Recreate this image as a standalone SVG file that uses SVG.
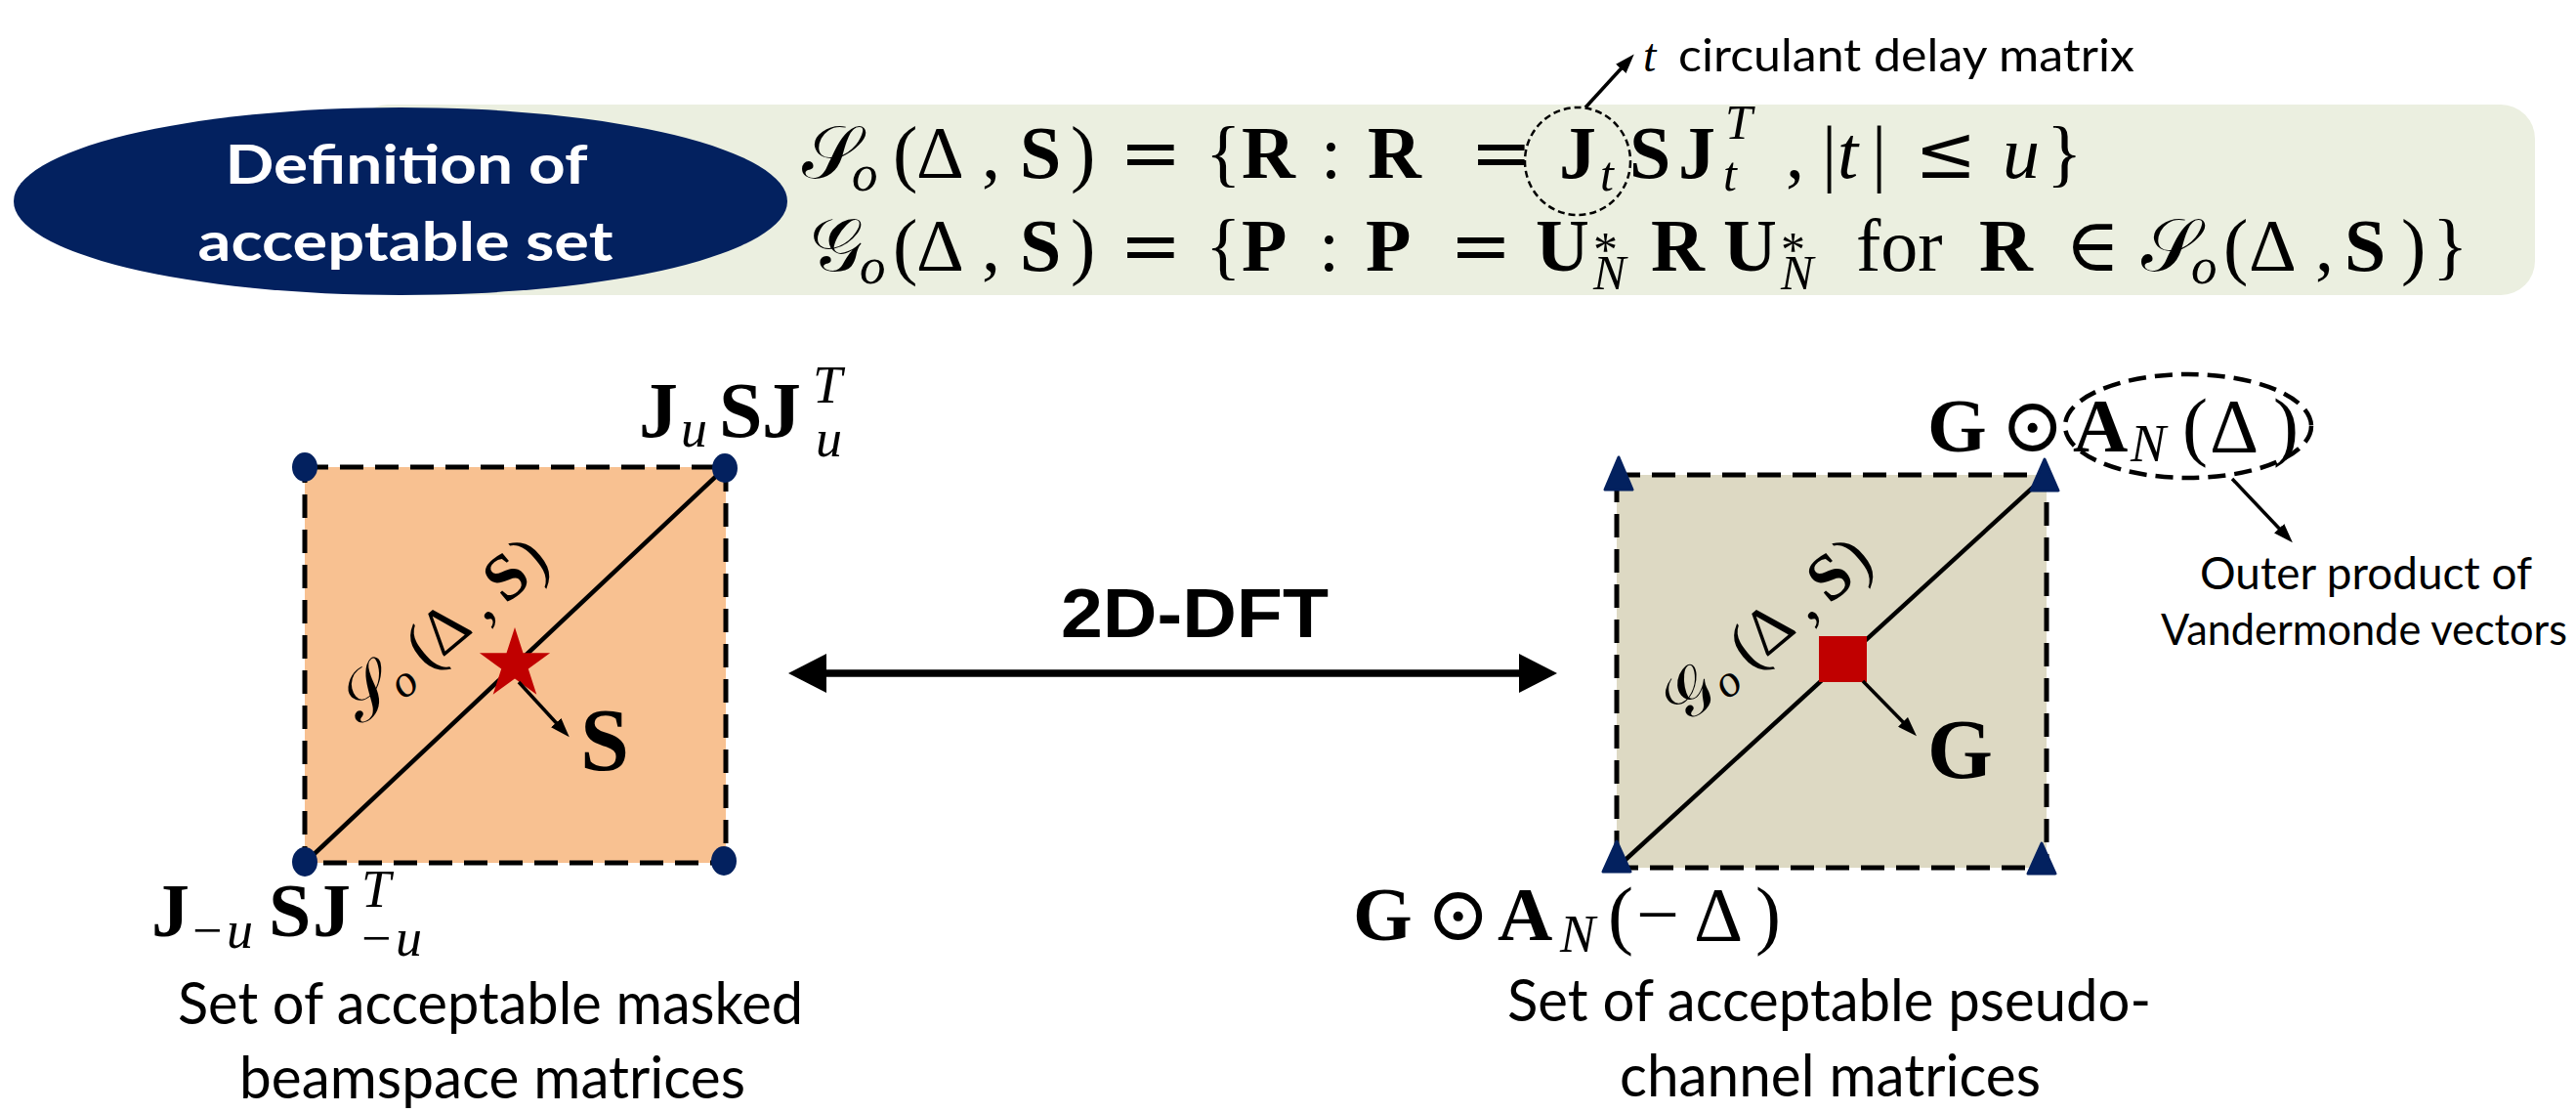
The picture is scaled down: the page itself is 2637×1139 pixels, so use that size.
<svg xmlns="http://www.w3.org/2000/svg" width="2637" height="1139" viewBox="0 0 2637 1139">
<defs>
<style>
.m{font-family:"Liberation Serif","DejaVu Serif",serif;fill:#000}
.b{font-weight:bold}
.i{font-style:italic}
.op{font-family:"DejaVu Serif","Liberation Serif",serif;font-weight:normal;font-style:normal}
.cal{font-family:"DejaVu Serif","DejaVu Sans","Noto Sans",serif;font-style:normal;font-weight:normal}
.sans{font-family:Lato,"Open Sans","Liberation Sans",sans-serif;fill:#000}
.navy{fill:#03215F}
.dash{fill:none;stroke:#000;stroke-width:5;stroke-dasharray:24 12}
.diag{stroke:#000;stroke-width:4.5}
.thin{stroke:#000;stroke-width:3.5;fill:none}
</style>
<marker id="ah" viewBox="0 0 20 14" refX="10" refY="7" markerWidth="20" markerHeight="14" markerUnits="userSpaceOnUse" orient="auto"><path d="M0,0 L20,7 L0,14 z" fill="#000"/></marker>
<marker id="big" viewBox="0 0 39 40" refX="19" refY="20" markerWidth="39" markerHeight="40" markerUnits="userSpaceOnUse" orient="auto-start-reverse"><path d="M0,0 L39,20 L0,40 z" fill="#000"/></marker>
</defs>
<rect width="2637" height="1139" fill="#fff"/>

<g id="definition">
<rect x="362" y="107" width="2233" height="195" rx="35" fill="#EBEFE0"/>
<ellipse class="navy" cx="410" cy="206" rx="396" ry="96"/>
<text class="sans" font-size="56" font-weight="bold" style="fill:#fff" x="416" y="188" text-anchor="middle" textLength="371" lengthAdjust="spacingAndGlyphs">Definition of</text>
<text class="sans" font-size="56" font-weight="bold" style="fill:#fff" x="415" y="267" text-anchor="middle" textLength="425" lengthAdjust="spacingAndGlyphs">acceptable set</text>
<text class="m" font-size="76"><tspan class="cal" x="821" y="182">𝒮</tspan><tspan class="i" font-size="53" x="872" y="195">o</tspan><tspan x="914" y="182">(</tspan><tspan x="938" y="182">Δ</tspan><tspan x="1005" y="182">,</tspan><tspan class="b" x="1044" y="182">S</tspan><tspan x="1096" y="182">)</tspan><tspan class="op" x="1146" y="182">=</tspan><tspan x="1234" y="182">{</tspan><tspan class="b" x="1271" y="182">R</tspan><tspan x="1352" y="182">:</tspan><tspan class="b" x="1400" y="182">R</tspan><tspan class="op" x="1505" y="182">=</tspan><tspan class="b" x="1596" y="182">J</tspan><tspan class="i" font-size="50" x="1638" y="195">t</tspan><tspan class="b" x="1668" y="182">S</tspan><tspan class="b" x="1718" y="182">J</tspan><tspan class="i" font-size="50" x="1766" y="142">T</tspan><tspan class="i" font-size="50" x="1764" y="195">t</tspan><tspan x="1828" y="182">,</tspan><tspan x="1865" y="182">|</tspan><tspan class="i" x="1881" y="182">t</tspan><tspan x="1916" y="182">|</tspan><tspan class="op" x="1960" y="182">≤</tspan><tspan class="i" x="2050" y="182">u</tspan><tspan x="2095" y="182">}</tspan></text>
<text class="m" font-size="76"><tspan class="cal" x="829" y="277">𝒢</tspan><tspan class="i" font-size="53" x="880" y="290">o</tspan><tspan x="914" y="277">(</tspan><tspan x="938" y="277">Δ</tspan><tspan x="1005" y="277">,</tspan><tspan class="b" x="1044" y="277">S</tspan><tspan x="1096" y="277">)</tspan><tspan class="op" x="1146" y="277">=</tspan><tspan x="1234" y="277">{</tspan><tspan class="b" x="1271" y="277">P</tspan><tspan x="1350" y="277">:</tspan><tspan class="b" x="1398" y="277">P</tspan><tspan class="op" x="1484" y="277">=</tspan><tspan class="b" x="1572" y="277">U</tspan><tspan font-size="50" x="1631" y="272">*</tspan><tspan class="i" font-size="50" x="1631" y="296">N</tspan><tspan class="b" x="1690" y="277">R</tspan><tspan class="b" x="1764" y="277">U</tspan><tspan font-size="50" x="1823" y="272">*</tspan><tspan class="i" font-size="50" x="1823" y="296">N</tspan><tspan x="1900" y="277">for</tspan><tspan class="b" x="2026" y="277">R</tspan><tspan class="op" x="2114" y="277">∈</tspan><tspan class="cal" x="2192" y="277">𝒮</tspan><tspan class="i" font-size="53" x="2243" y="290">o</tspan><tspan x="2276" y="277">(</tspan><tspan x="2302" y="277">Δ</tspan><tspan x="2370" y="277">,</tspan><tspan class="b" x="2400" y="277">S</tspan><tspan x="2458" y="277">)</tspan><tspan x="2490" y="277">}</tspan></text>
</g>

<g id="annotation-t">
<ellipse cx="1615" cy="165" rx="54" ry="55" fill="none" stroke="#000" stroke-width="2.5" stroke-dasharray="7 4"/>
<text class="m i" font-size="48" x="1682" y="73">t</text>
<text class="sans" font-size="46" x="1718" y="73" textLength="467" lengthAdjust="spacingAndGlyphs">circulant delay matrix</text>
</g>

<g id="masked-set">
<rect x="312" y="478" width="431" height="405" fill="#F8C191"/>
<rect class="dash" x="312" y="478" width="431" height="405"/>
<line class="diag" x1="312" y1="883" x2="743" y2="478"/>
<ellipse class="navy" cx="312" cy="478" rx="13" ry="15"/>
<ellipse class="navy" cx="742" cy="479" rx="13" ry="15"/>
<ellipse class="navy" cx="312" cy="882" rx="13" ry="15"/>
<ellipse class="navy" cx="741" cy="881" rx="13" ry="15"/>
<polygon fill="#C00000" points="527,642 535.5,668.3 563.1,668.3 540.8,684.5 549.3,710.7 527,694.5 504.7,710.7 513.2,684.5 490.9,668.3 518.5,668.3"/>
<text class="m" font-size="67" transform="translate(370,743) rotate(-40)"><tspan class="cal" x="0" y="0">𝒮</tspan><tspan class="i" font-size="47" x="50" y="8">o</tspan><tspan x="88" y="0">(</tspan><tspan x="108" y="0">Δ</tspan><tspan x="164" y="0">,</tspan><tspan class="b" x="193" y="0">S</tspan><tspan x="233" y="0">)</tspan></text>
<text class="m b" font-size="90" x="594" y="788">S</text>
<text class="m" font-size="80"><tspan class="b" x="654" y="447">J</tspan><tspan class="i" font-size="54" x="697" y="457">u</tspan><tspan class="b" x="736" y="447">S</tspan><tspan class="b" x="780" y="447">J</tspan><tspan class="i" font-size="54" x="832" y="412">T</tspan><tspan class="i" font-size="54" x="835" y="467">u</tspan></text>
<text class="m" font-size="78"><tspan class="b" x="155" y="958">J</tspan><tspan font-size="54" x="197" y="970">−</tspan><tspan class="i" font-size="54" x="232" y="970">u</tspan><tspan class="b" x="275" y="958">S</tspan><tspan class="b" x="320" y="958">J</tspan><tspan class="i" font-size="54" x="370" y="928">T</tspan><tspan font-size="54" x="370" y="978">−</tspan><tspan class="i" font-size="54" x="405" y="978">u</tspan></text>
<text class="sans" font-size="60" x="182" y="1048" textLength="640" lengthAdjust="spacingAndGlyphs">Set of acceptable masked</text>
<text class="sans" font-size="60" x="245" y="1124" textLength="518" lengthAdjust="spacingAndGlyphs">beamspace matrices</text>
</g>

<g id="pseudo-channel-set">
<rect x="1655" y="486" width="440" height="402" fill="#DDD9C3"/>
<rect class="dash" x="1655" y="486" width="440" height="402"/>
<line class="diag" x1="1655" y1="888" x2="2095" y2="486"/>
<g class="navy" stroke="#03215F" stroke-width="3" stroke-linejoin="round">
<polygon points="1657,468 1671,501 1643,501"/>
<polygon points="2093,470 2107,502 2079,502"/>
<polygon points="1655,861 1669,892 1641,892"/>
<polygon points="2090,863 2104,894 2076,894"/>
</g>
<rect x="1862" y="651" width="49" height="47" fill="#C00000"/>
<text class="m" font-size="67" transform="translate(1725,743) rotate(-40)"><tspan class="cal" x="0" y="0">𝒢</tspan><tspan class="i" font-size="47" x="50" y="8">o</tspan><tspan x="88" y="0">(</tspan><tspan x="108" y="0">Δ</tspan><tspan x="164" y="0">,</tspan><tspan class="b" x="193" y="0">S</tspan><tspan x="233" y="0">)</tspan></text>
<text class="m b" font-size="86" x="1973" y="796">G</text>
<text class="m" font-size="78"><tspan class="b" x="1973" y="462">G</tspan><tspan class="op" x="2048" y="462">⊙</tspan><tspan class="b" x="2122" y="462">A</tspan><tspan class="i" font-size="54" x="2181" y="472">N</tspan><tspan x="2234" y="462">(</tspan><tspan x="2262" y="462">Δ</tspan><tspan x="2327" y="462">)</tspan></text>
<ellipse cx="2240" cy="436" rx="126" ry="53" fill="none" stroke="#000" stroke-width="4.5" stroke-dasharray="18 9"/>
<text class="m" font-size="78"><tspan class="b" x="1385" y="962">G</tspan><tspan class="op" x="1460" y="962">⊙</tspan><tspan class="b" x="1533" y="962">A</tspan><tspan class="i" font-size="54" x="1597" y="974">N</tspan><tspan x="1646" y="962">(</tspan><tspan x="1675" y="962">−</tspan><tspan x="1734" y="962">Δ</tspan><tspan x="1797" y="962">)</tspan></text>
<text class="sans" font-size="46" x="2252" y="603" textLength="340" lengthAdjust="spacingAndGlyphs">Outer product of</text>
<text class="sans" font-size="45" x="2212" y="660" textLength="416" lengthAdjust="spacingAndGlyphs">Vandermonde vectors</text>
<text class="sans" font-size="60" x="1543" y="1045" textLength="659" lengthAdjust="spacingAndGlyphs">Set of acceptable pseudo-</text>
<text class="sans" font-size="60" x="1658" y="1122" textLength="431" lengthAdjust="spacingAndGlyphs">channel matrices</text>
</g>

<g id="connectors">
<line x1="827" y1="689" x2="1574" y2="689" stroke="#000" stroke-width="7.5" marker-start="url(#big)" marker-end="url(#big)"/>
<text font-family="'Liberation Sans',Arial,sans-serif" font-weight="bold" font-size="70" x="1086" y="652" textLength="274" lengthAdjust="spacingAndGlyphs">2D-DFT</text>
<line class="thin" x1="1623" y1="110" x2="1666" y2="63" marker-end="url(#ah)"/>
<line class="thin" x1="531" y1="698" x2="576" y2="747" marker-end="url(#ah)"/>
<line class="thin" x1="1907" y1="697" x2="1955" y2="746" marker-end="url(#ah)"/>
<line class="thin" x1="2285" y1="490" x2="2340" y2="548" marker-end="url(#ah)"/>
</g>
</svg>
